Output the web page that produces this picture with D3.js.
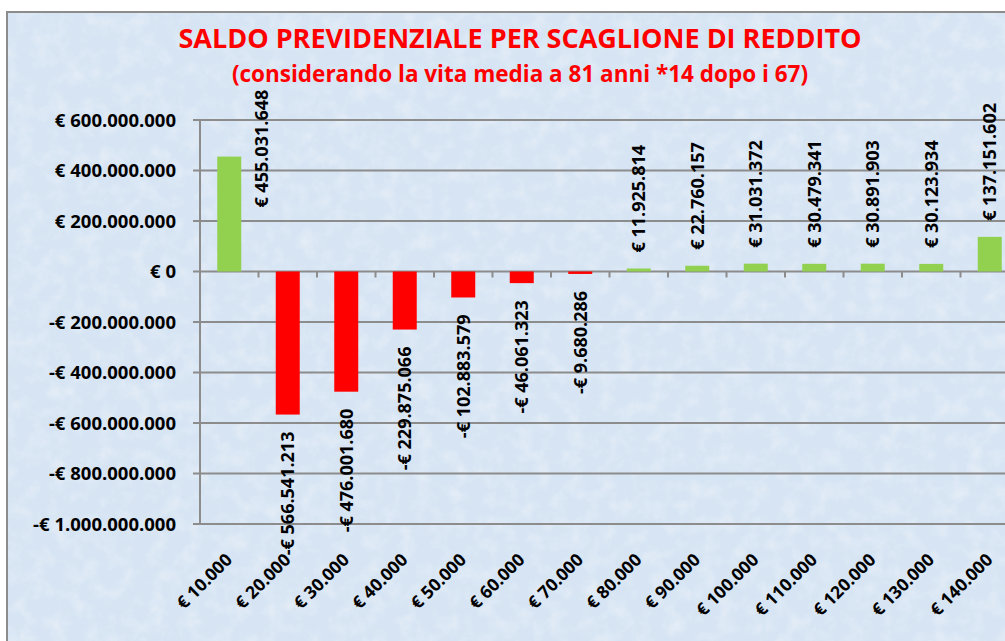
<!DOCTYPE html>
<html>
<head>
<meta charset="utf-8">
<script src="https://cdn.jsdelivr.net/npm/d3@7"></script>
<style>
  body { margin: 0; background: #fff; overflow: hidden; }
  text { font-family: "Open Sans", Lato, sans-serif; }
</style>
</head>
<body>
<div class="svgContainer"></div>
<script>
var w = 1005;
var h = 641;

// scaglioni di reddito
var categories = ['€ 10.000', '€ 20.000', '€ 30.000', '€ 40.000', '€ 50.000', '€ 60.000', '€ 70.000',
                  '€ 80.000', '€ 90.000', '€ 100.000', '€ 110.000', '€ 120.000', '€ 130.000', '€ 140.000'];
var saldo = [455031648, -566541213, -476001680, -229875066, -102883579, -46061323, -9680286,
             11925814, 22760157, 31031372, 30479341, 30891903, 30123934, 137151602];
var yTicks = [600e6, 400e6, 200e6, 0, -200e6, -400e6, -600e6, -800e6, -1000e6];

var title = 'SALDO PREVIDENZIALE PER SCAGLIONE DI REDDITO';
var subtitle = '(considerando la vita media a 81 anni *14 dopo i 67)';

var euro = function(v) {
    var s = Math.abs(Math.round(v)).toString().replace(/\B(?=(\d{3})+(?!\d))/g, '.');
    return (v < 0 ? '-€ ' : '€ ') + s;
};

var svg = d3.select('.svgContainer')
            .append('svg')
            .attr('width', w)
            .attr('height', h);

// texture di sfondo
var defs = svg.append('defs');
var filt = defs.append('filter').attr('id', 'tex').attr('x', 0).attr('y', 0).attr('width', '100%').attr('height', '100%');
filt.append('feTurbulence').attr('type', 'fractalNoise').attr('baseFrequency', 0.06).attr('numOctaves', 4).attr('seed', 7);
filt.append('feColorMatrix').attr('type', 'matrix')
    .attr('values', '0 0 0 0 1  0 0 0 0 1  0 0 0 0 1  0 0 0 1.2 -0.5');

svg.append('rect')
   .attr('x', 7).attr('y', 12)
   .attr('width', w + 20).attr('height', h + 20)
   .attr('fill', '#d6e4f3')
   .attr('stroke', '#8c8c8c')
   .attr('stroke-width', 2);

svg.append('rect')
   .attr('x', 8).attr('y', 13)
   .attr('width', w).attr('height', h)
   .attr('filter', 'url(#tex)')
   .attr('opacity', 0.55);

// titolo
svg.append('text')
   .attr('x', 520).attr('y', 48)
   .attr('text-anchor', 'middle')
   .style('font-size', '27px').style('font-weight', 'bold')
   .attr('fill', '#ff0000')
   .text(title);

svg.append('text')
   .attr('x', 520).attr('y', 82)
   .attr('text-anchor', 'middle')
   .style('font-size', '22.5px').style('font-weight', 'bold')
   .attr('fill', '#ff0000')
   .text(subtitle);

var left = 200;
var xScale = d3.scaleBand()
               .domain(categories)
               .range([left, left + 58.5 * categories.length])
               .paddingInner(0.59)
               .paddingOuter(0.295);

var yScale = d3.scaleLinear()
               .domain([-1000e6, 600e6])
               .range([524, 120]);

// griglia
svg.append('g')
   .selectAll('line')
   .data(yTicks)
   .enter()
   .append('line')
   .attr('x1', left - 7).attr('x2', w + 20)
   .attr('y1', d => yScale(d)).attr('y2', d => yScale(d))
   .attr('stroke', '#8c8c8c')
   .attr('stroke-width', 2);

// asse y
svg.append('line')
   .attr('x1', left).attr('x2', left)
   .attr('y1', yScale(600e6)).attr('y2', yScale(-1000e6))
   .attr('stroke', '#8c8c8c').attr('stroke-width', 2);

svg.append('g')
   .selectAll('text')
   .data(yTicks)
   .enter()
   .append('text')
   .attr('x', 176)
   .attr('y', d => yScale(d))
   .attr('dy', '0.36em')
   .attr('text-anchor', 'end')
   .style('font-size', '18.5px').style('font-weight', 'bold')
   .attr('fill', '#000')
   .text(d => euro(d));

// tacche categorie sullo zero
var step = xScale.step();
svg.append('g')
   .selectAll('line')
   .data(categories.slice(1))
   .enter()
   .append('line')
   .attr('x1', (d, i) => left + (i + 1) * step)
   .attr('x2', (d, i) => left + (i + 1) * step)
   .attr('y1', yScale(0)).attr('y2', yScale(0) + 6)
   .attr('stroke', '#8c8c8c').attr('stroke-width', 2);

// barre
svg.selectAll('rect.bar')
   .data(saldo)
   .enter()
   .append('rect')
   .attr('class', 'bar')
   .attr('x', (d, i) => xScale(categories[i]))
   .attr('width', xScale.bandwidth())
   .attr('y', d => yScale(Math.max(0, d)))
   .attr('height', d => Math.abs(yScale(d) - yScale(0)))
   .attr('fill', d => d < 0 ? '#ff0000' : '#92d050');

// etichette dati
svg.selectAll('text.lbl')
   .data(saldo)
   .enter()
   .append('text')
   .attr('class', 'lbl')
   .attr('transform', function(d, i) {
       var cx = xScale(categories[i]) + xScale.bandwidth() / 2;
       var y;
       if (i === 0) { cx += 32; y = yScale(d) + 51; }
       else if (d < 0) { y = yScale(d) + 17; }
       else { y = yScale(d) - 16; }
       return 'translate(' + cx + ',' + y + ') rotate(-90)';
   })
   .attr('dy', '0.36em')
   .attr('text-anchor', d => d < 0 ? 'end' : 'start')
   .style('font-size', '18px').style('font-weight', 'bold')
   .attr('fill', '#000')
   .text(d => euro(d));

// etichette categorie
svg.selectAll('text.cat')
   .data(categories)
   .enter()
   .append('text')
   .attr('class', 'cat')
   .attr('transform', d => 'translate(' + (xScale(d) + xScale.bandwidth() / 2 + 4) + ',561) rotate(-45)')
   .attr('text-anchor', 'end')
   .style('font-size', '17.5px').style('font-weight', 'bold')
   .attr('fill', '#000')
   .text(d => d);
</script>
</body>
</html>
